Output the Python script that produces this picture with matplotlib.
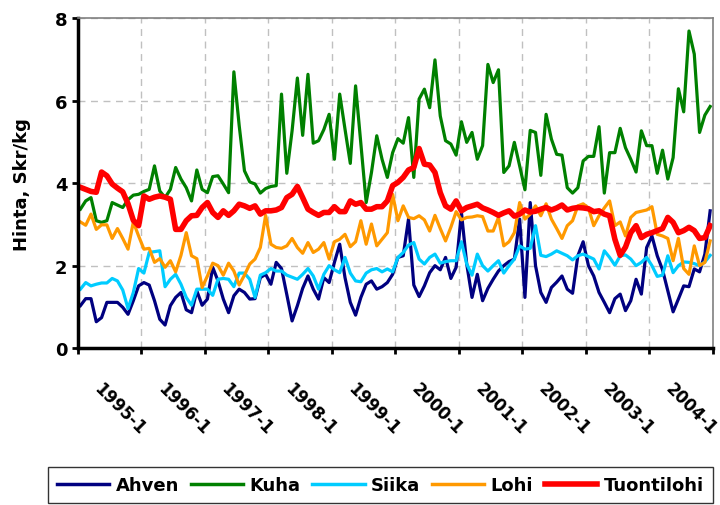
import numpy as np
import matplotlib.pyplot as plt
from matplotlib.transforms import ScaledTranslation

# monthly prices 1995-1 ... 2004-12 (Skr/kg)
ahven = [1.03, 1.20, 1.20, 0.64, 0.74, 1.11, 1.11, 1.11, 0.99, 0.82, 1.15, 1.51,
         1.59, 1.53, 1.15, 0.70, 0.56, 1.03, 1.23, 1.35, 0.93, 0.86, 1.39, 1.04,
         1.19, 1.96, 1.63, 1.19, 0.86, 1.27, 1.43, 1.35, 1.19, 1.20, 1.71, 1.79,
         1.55, 2.08, 1.93, 1.30, 0.66, 1.03, 1.45, 1.75, 1.43, 1.19, 1.71, 1.59,
         2.08, 2.52, 1.71, 1.11, 0.80, 1.23, 1.55, 1.63, 1.43, 1.49, 1.59, 1.79,
         2.20, 2.24, 3.13, 1.53, 1.25, 1.51, 1.83, 2.00, 1.90, 2.20, 1.69, 1.96,
         3.29, 2.04, 1.23, 1.79, 1.15, 1.45, 1.67, 1.87, 2.00, 2.10, 2.16, 3.13,
         1.23, 3.53, 2.00, 1.35, 1.11, 1.47, 1.60, 1.75, 1.43, 1.33, 2.24, 2.58,
         2.00, 1.75, 1.35, 1.11, 0.86, 1.20, 1.31, 0.91, 1.15, 1.67, 1.31, 2.44,
         2.72, 2.24, 1.90, 1.39, 0.88, 1.19, 1.51, 1.49, 1.92, 1.85, 2.28, 3.33]
kuha = [3.37, 3.57, 3.65, 3.09, 3.05, 3.09, 3.53, 3.47, 3.41, 3.60, 3.71, 3.73,
        3.80, 3.85, 4.42, 3.81, 3.65, 3.85, 4.38, 4.10, 3.89, 3.57, 4.32, 3.85,
        3.77, 4.16, 4.18, 3.98, 3.77, 6.70, 5.40, 4.30, 4.03, 3.98, 3.76, 3.87,
        3.92, 3.94, 6.16, 4.24, 5.27, 6.55, 5.16, 6.64, 4.97, 5.03, 5.30, 5.67,
        4.58, 6.16, 5.31, 4.48, 6.36, 4.95, 3.53, 4.26, 5.15, 4.58, 4.14, 4.74,
        5.08, 4.97, 5.59, 4.14, 6.04, 6.28, 5.83, 6.99, 5.63, 5.03, 4.95, 4.68,
        5.49, 4.99, 5.23, 4.58, 4.91, 6.88, 6.44, 6.75, 4.26, 4.42, 4.99, 4.42,
        3.84, 5.28, 5.23, 4.19, 5.67, 5.07, 4.70, 4.68, 3.89, 3.76, 3.89, 4.54,
        4.65, 4.65, 5.37, 3.76, 4.74, 4.74, 5.33, 4.86, 4.58, 4.27, 5.27, 4.91,
        4.91, 4.24, 4.80, 4.10, 4.62, 6.29, 5.73, 7.69, 7.13, 5.23, 5.65, 5.86]
siika = [1.43, 1.59, 1.51, 1.55, 1.58, 1.58, 1.69, 1.63, 1.41, 0.96, 1.35, 1.93,
         1.82, 2.32, 2.34, 2.36, 1.49, 1.67, 1.79, 1.55, 1.23, 1.04, 1.43, 1.43,
         1.43, 1.28, 1.67, 1.69, 1.67, 1.49, 1.82, 1.82, 1.67, 1.23, 1.77, 1.83,
         1.93, 1.87, 1.87, 1.77, 1.72, 1.67, 1.79, 1.93, 1.75, 1.43, 1.79, 2.00,
         1.90, 1.83, 2.20, 1.82, 1.63, 1.61, 1.82, 1.90, 1.93, 1.85, 1.92, 1.85,
         2.20, 2.32, 2.50, 2.56, 2.16, 2.04, 2.20, 2.28, 2.06, 2.10, 2.12, 2.12,
         2.58, 2.04, 1.77, 2.28, 2.00, 1.87, 2.00, 2.12, 1.82, 2.00, 2.16, 2.48,
         2.40, 2.42, 2.97, 2.25, 2.22, 2.28, 2.36, 2.30, 2.24, 2.14, 2.24, 2.28,
         2.22, 2.16, 1.92, 2.36, 2.20, 2.01, 2.24, 2.26, 2.16, 2.00, 2.08, 2.20,
         2.00, 1.74, 1.77, 2.24, 1.83, 2.00, 2.09, 2.08, 2.05, 2.00, 2.09, 2.25]
lohi = [3.06, 2.98, 3.25, 2.88, 2.99, 2.99, 2.66, 2.90, 2.66, 2.40, 3.06, 2.72,
        2.40, 2.42, 2.08, 2.17, 1.96, 2.12, 1.85, 2.25, 2.80, 2.24, 2.17, 1.47,
        1.75, 2.06, 2.00, 1.77, 2.06, 1.87, 1.53, 1.77, 2.04, 2.16, 2.44, 3.22,
        2.52, 2.44, 2.42, 2.48, 2.66, 2.44, 2.30, 2.56, 2.32, 2.40, 2.56, 2.16,
        2.58, 2.64, 2.76, 2.46, 2.58, 3.09, 2.52, 3.01, 2.48, 2.64, 2.80, 3.73,
        3.09, 3.45, 3.17, 3.14, 3.21, 3.11, 2.84, 3.22, 2.90, 2.60, 2.93, 3.31,
        3.11, 3.17, 3.18, 3.21, 3.19, 2.84, 2.84, 3.17, 2.48, 2.58, 2.80, 3.53,
        3.13, 3.25, 3.45, 3.21, 3.50, 3.13, 2.90, 2.66, 2.97, 3.09, 3.45, 3.50,
        3.40, 2.97, 3.21, 3.40, 3.57, 2.97, 3.06, 2.72, 3.17, 3.29, 3.32, 3.35,
        3.43, 2.76, 2.72, 2.66, 2.12, 2.66, 1.93, 1.79, 2.48, 2.00, 2.08, 2.60]
tuontilohi = [3.90, 3.85, 3.80, 3.78, 4.27, 4.18, 3.98, 3.88, 3.79, 3.50, 3.10, 2.97,
              3.69, 3.61, 3.66, 3.69, 3.66, 3.61, 2.88, 2.88, 3.09, 3.21, 3.22, 3.41,
              3.53, 3.29, 3.17, 3.33, 3.22, 3.33, 3.49, 3.45, 3.39, 3.45, 3.25, 3.33,
              3.33, 3.35, 3.41, 3.65, 3.73, 3.92, 3.65, 3.37, 3.29, 3.22, 3.29, 3.29,
              3.43, 3.31, 3.31, 3.57, 3.49, 3.53, 3.37, 3.37, 3.43, 3.43, 3.57, 3.94,
              4.02, 4.14, 4.32, 4.38, 4.84, 4.46, 4.44, 4.26, 3.77, 3.45, 3.37, 3.57,
              3.33, 3.41, 3.45, 3.49, 3.40, 3.35, 3.29, 3.22, 3.28, 3.33, 3.20, 3.25,
              3.35, 3.30, 3.32, 3.37, 3.41, 3.35, 3.40, 3.47, 3.35, 3.39, 3.41, 3.40,
              3.38, 3.31, 3.33, 3.25, 3.21, 2.64, 2.25, 2.45, 2.80, 2.97, 2.68, 2.76,
              2.80, 2.85, 2.90, 3.17, 3.05, 2.80, 2.85, 2.93, 2.85, 2.66, 2.68, 2.97]

years = list(range(1995, 2005))
year_labels = [f"{y}-1" for y in years]

series = [("Ahven", ahven, "#000080", 2.3),
          ("Kuha", kuha, "#008000", 2.3),
          ("Siika", siika, "#00CCFF", 2.3),
          ("Lohi", lohi, "#FF9900", 2.3),
          ("Tuontilohi", tuontilohi, "#FF0000", 4.0)]

plt.rcParams['font.family'] = ['DejaVu Sans']
plt.rcParams['font.weight'] = 'bold'

fig = plt.figure(figsize=(7.2, 5.06), dpi=100)
ax = fig.add_axes([0.108, 0.310, 0.882, 0.652])

months = np.arange(len(ahven))
for name, vals, col, lw in series:
    ax.plot(months, vals, color=col, lw=lw, label=name, solid_joinstyle='round')

n = len(ahven)
ax.set_xlim(-0.5, n - 0.5)
ax.set_ylim(0, 8)
ax.set_yticks([0, 2, 4, 6, 8])
ax.set_yticklabels(["0", "2", "4", "6", "8"], fontsize=13, fontweight='bold')
ax.tick_params(axis='y', length=4.5, width=2, pad=3)

# tick marks / grid at year boundaries, labels at first month of each year
ax.set_xticks(np.arange(-0.5, n, 12), minor=True)
ax.set_xticks(np.arange(0, n, 12))
ax.set_xticklabels(year_labels, rotation=-45, ha='left', va='center',
                   rotation_mode='anchor', fontsize=12, fontweight='bold')
ax.tick_params(axis='x', which='major', length=0, pad=0)
ax.tick_params(axis='x', which='minor', length=4.5, width=2)
shift = ScaledTranslation(0.165, -0.37, fig.dpi_scale_trans)
for lab in ax.get_xticklabels():
    lab.set_transform(lab.get_transform() + shift)

ax.grid(True, axis='y', color='#c0c0c0', ls=(0, (5, 4)), lw=1)
ax.grid(True, axis='x', which='minor', color='#c0c0c0', ls=(0, (5, 4)), lw=1)

for s in ['left', 'bottom']:
    ax.spines[s].set_linewidth(2.5)
    ax.spines[s].set_color('black')
for s in ['top', 'right']:
    ax.spines[s].set_linewidth(1.2)
    ax.spines[s].set_color('#808080')

fig.text(22 / 720, 0.636, "Hinta, Skr/kg", rotation=90, ha='center', va='center',
         fontsize=13, fontweight='bold')

leg = fig.legend(loc='upper left', bbox_to_anchor=(48 / 720, 1 - 468 / 506),
                 ncol=5, handlelength=2.9, columnspacing=0.65,
                 handletextpad=0.35, borderaxespad=0, fancybox=False,
                 edgecolor='black', borderpad=0.5,
                 prop={'size': 13, 'weight': 'bold'})
leg.get_frame().set_linewidth(1.0)
for h in leg.get_lines():
    h.set_linewidth(2.5)
leg.get_lines()[-1].set_linewidth(4.0)

fig.savefig("out.png", dpi=100)
